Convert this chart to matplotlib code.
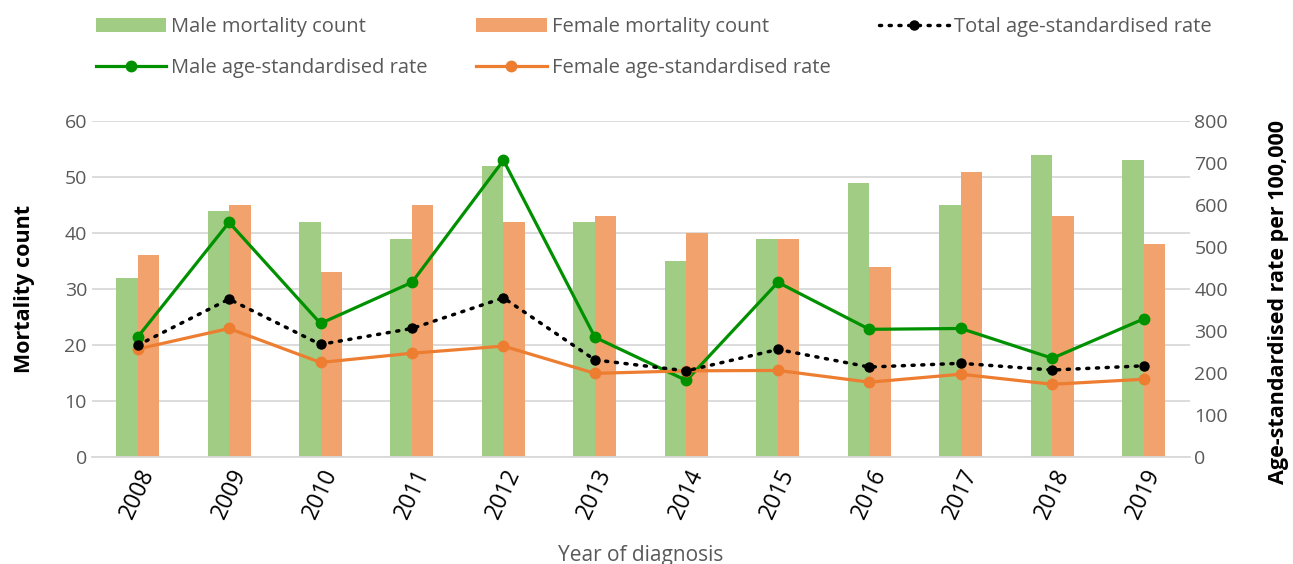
import matplotlib.pyplot as plt
import numpy as np

plt.rcParams['font.family'] = ['Open Sans', 'DejaVu Sans']

years = ['2008', '2009', '2010', '2011', '2012', '2013',
         '2014', '2015', '2016', '2017', '2018', '2019']
male_count = [32, 44, 42, 39, 52, 42, 35, 39, 49, 45, 54, 53]
female_count = [36, 45, 33, 45, 42, 43, 40, 39, 34, 51, 43, 38]
male_rate = [285, 559, 318, 416, 707, 285, 182, 416, 304, 306, 235, 329]
female_rate = [257, 306, 225, 247, 264, 199, 205, 206, 178, 197, 173, 185]
total_rate = [266, 376, 268, 306, 379, 231, 205, 256, 214, 223, 207, 217]

green_bar = '#a1cc83'
orange_bar = '#f2a26c'
green_line = '#009100'
orange_line = '#ed7d31'
grey_text = '#595959'

fig = plt.figure(figsize=(12.93, 5.64), dpi=100)
ax = fig.add_axes([0.071, 0.19, 0.849, 0.595])
ax2 = ax.twinx()

x = np.arange(len(years))
w = 0.235
b1 = ax.bar(x - w / 2, male_count, w, color=green_bar, label='Male mortality count', zorder=2)
b2 = ax.bar(x + w / 2, female_count, w, color=orange_bar, label='Female mortality count', zorder=2)

l_male, = ax2.plot(x, male_rate, '-o', color=green_line, lw=2.3, ms=7.5,
                   label='Male age-standardised rate')
l_fem, = ax2.plot(x, female_rate, '-o', color=orange_line, lw=2.3, ms=7.5,
                  label='Female age-standardised rate')
l_tot, = ax2.plot(x, total_rate, linestyle=(0, (0.6, 2.2)), marker='o', color='black',
                  lw=2.5, ms=6.5, dash_capstyle='round', label='Total age-standardised rate')

ax.set_xlim(-0.5, len(years) - 0.5)
ax.set_ylim(0, 60)
ax.set_yticks(range(0, 61, 10))
ax2.set_ylim(0, 800)
ax2.set_yticks(range(0, 801, 100))

ax.grid(axis='y', color='#d9d9d9', lw=1.3, zorder=0)
ax.set_axisbelow(True)
for a in (ax, ax2):
    for s in a.spines.values():
        s.set_visible(False)
    a.tick_params(length=0, labelsize=14, labelcolor=grey_text)
ax.spines['bottom'].set_visible(True)
ax.spines['bottom'].set_color('#d9d9d9')
ax.spines['bottom'].set_linewidth(1.3)

ax.set_xticks(x)
ax.set_xticklabels(years, rotation=65, fontsize=16.5, color='black')
ax.tick_params(axis='x', pad=6)

ax.set_ylabel('Mortality count', fontsize=15.5, fontweight='bold', labelpad=21)
ax2.set_ylabel('Age-standardised rate per 100,000', fontsize=15.5, fontweight='bold')
ax2.yaxis.set_label_coords(1.071, 0.46)
ax.set_xlabel('Year of diagnosis', fontsize=15, color=grey_text, labelpad=16)

handles = [b1, l_male, b2, l_fem, l_tot]
labels = [h.get_label() for h in handles]
fig.legend(handles, labels, ncol=3, loc='upper left', bbox_to_anchor=(0.074, 0.97),
           frameon=False, fontsize=14.5, handlelength=3.5, columnspacing=2.4,
           labelspacing=1.05, handletextpad=0.25, labelcolor=grey_text,
           borderpad=0, borderaxespad=0)

fig.savefig('out.png', dpi=100)
